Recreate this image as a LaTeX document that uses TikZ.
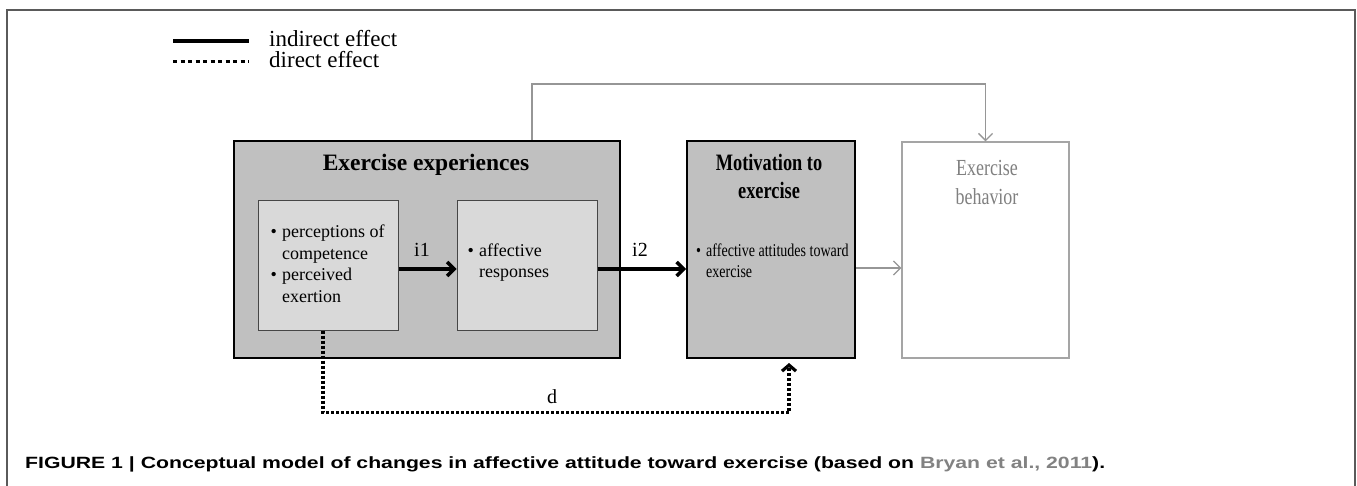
\documentclass[tikz,border=0pt]{standalone}
\usepackage{fontspec}
\usepackage{graphicx}
\usetikzlibrary{arrows.meta,calc}
\setmainfont{Liberation Serif}
\newfontfamily\condserif{Liberation Serif}[FakeStretch=0.78]
\newfontfamily\capfont{Liberation Sans}
\definecolor{boxdark}{RGB}{192,192,192}
\definecolor{boxlight}{RGB}{217,217,217}
\definecolor{innerline}{RGB}{70,70,70}
\definecolor{behline}{RGB}{165,165,165}
\definecolor{behtext}{RGB}{128,128,128}
\definecolor{conngray}{RGB}{150,150,150}
\definecolor{framegray}{RGB}{90,90,90}
\definecolor{citegray}{RGB}{130,130,130}
\newlength\capw
\newcommand{\captxt}{FIGURE 1 | Conceptual model of changes in affective attitude toward exercise (based on \textcolor{citegray}{Bryan et al., 2011}).}
\begin{document}
\settowidth{\capw}{\capfont\bfseries\fontsize{16.3}{20}\selectfont\captxt}%
\pgfmathsetmacro\capsc{1080/\capw}%
\begin{tikzpicture}[x=1pt,y=-1pt,
  outerbox/.style={draw=black, line width=2pt, fill=boxdark, inner sep=0pt},
  innerbox/.style={draw=innerline, line width=1pt, fill=boxlight, inner sep=0pt},
  behbox/.style={draw=behline, line width=1.3pt, fill=white, inner sep=0pt},
  bodytext/.style={inner sep=0pt, font=\fontsize{18}{21}\selectfont},
  condtext/.style={inner sep=0pt, font=\condserif\fontsize{18}{21}\selectfont},
  titletext/.style={inner sep=0pt, font=\bfseries\fontsize{23.5}{27}\selectfont},
  condtitle/.style={inner sep=0pt, font=\condserif\bfseries\fontsize{23.5}{27}\selectfont},
  behtitle/.style={inner sep=0pt, text=behtext, font=\condserif\fontsize{23}{27}\selectfont},
  labeltext/.style={inner sep=0pt, font=\fontsize{20}{24}\selectfont},
  legendtext/.style={inner sep=0pt, font=\fontsize{23}{27}\selectfont},
  mainarrow/.style={line width=3.5pt, -{Straight Barb[length=7pt,width=14pt,line width=3.5pt]}},
  grayarrow/.style={draw=conngray, line width=1.3pt, -{Straight Barb[length=7pt,width=14pt,line width=1.3pt]}},
  dotline/.style={line width=3.2pt, dash pattern=on 3pt off 2pt},
  dotarrow/.style={dotline, -{Straight Barb[length=6pt,width=14pt,line width=3.2pt]}, shorten >=4pt},
  legsolid/.style={line width=4pt},
  legdot/.style={line width=3.5pt, dash pattern=on 4pt off 3.5pt},
  framestyle/.style={draw=framegray, line width=1.5pt}
]
\useasboundingbox (0,0) rectangle (1357,486);
\fill[white] (0,0) rectangle (1357,486);
\draw[framestyle] (7,520) -- (7,10) -- (1355,10) -- (1355,520);

% legend
\coordinate (ls1) at (173,41);
\coordinate (ls2) at (249,41);
\coordinate (ld1) at (173,61.5);
\coordinate (ld2) at (249,61.5);
\draw[legsolid] (ls1) -- (ls2);
\draw[legdot] (ld1) -- (ld2);
\node[legendtext, anchor=base west] (legind) at (269,47) {indirect effect};
\node[legendtext, anchor=base west] (legdir) at (269,68) {direct effect};

% boxes
\node[outerbox, minimum width=386pt, minimum height=217pt] (ee) at (427,249.5) {};
\node[innerbox, minimum width=140pt, minimum height=129pt] (in1) at (328,265.5) {};
\node[innerbox, minimum width=140pt, minimum height=129pt] (in2) at (527,265.5) {};
\node[outerbox, minimum width=168pt, minimum height=217pt] (mo) at (771,249.5) {};
\node[behbox, minimum width=167pt, minimum height=216pt] (be) at (985.5,250) {};

% titles
\node[titletext, anchor=base] (eetitle) at (426,171) {Exercise experiences};
\node[condtitle, anchor=base] (motitle1) at (769,171) {Motivation to};
\node[condtitle, anchor=base] (motitle2) at (769,198.5) {exercise};
\node[behtitle, anchor=base] (betitle1) at (987,176) {Exercise};
\node[behtitle, anchor=base] (betitle2) at (987,205) {behavior};

% box 1 text
\node[bodytext, anchor=base west] (b1a) at (270.5,238) {\textbullet};
\node[bodytext, anchor=base west] (t1a) at (282,238) {perceptions of};
\node[bodytext, anchor=base west] (t1b) at (282,259.5) {competence};
\node[bodytext, anchor=base west] (b1b) at (270.5,281) {\textbullet};
\node[bodytext, anchor=base west] (t1c) at (282,281) {perceived};
\node[bodytext, anchor=base west] (t1d) at (282,302.5) {exertion};

% box 2 text
\node[bodytext, anchor=base west] (b2a) at (467.5,256.5) {\textbullet};
\node[bodytext, anchor=base west] (t2a) at (479,256.5) {affective};
\node[bodytext, anchor=base west] (t2b) at (479,278) {responses};

% motivation text
\node[condtext, anchor=base west] (b3a) at (696,256.5) {\textbullet};
\node[condtext, anchor=base west] (t3a) at (706,256.5) {affective attitudes toward};
\node[condtext, anchor=base west] (t3b) at (706,278) {exercise};

% connectors
\coordinate (a1) at ([yshift=-3.5pt]in1.east);
\draw[mainarrow] (a1) -- (a1 -| in2.west);
\coordinate (a2) at ([yshift=-3.5pt]in2.east);
\draw[mainarrow] (a2) -- (a2 -| mo.west);
\coordinate (g1) at ([yshift=-18.5pt]mo.east);
\draw[grayarrow] (g1) -- (g1 -| be.west);
\coordinate (topstart) at ([xshift=105pt]ee.north);
\draw[grayarrow] (topstart) -- ++(0,-56) -| (be.north);
\coordinate (dstart) at ([xshift=-5pt]in1.south);
\coordinate (dend) at ([xshift=18pt]mo.south);
\draw[dotarrow] (dstart) -- ++(0,82) -| (dend);

% labels
\node[labeltext, anchor=base] (li1) at (422,256.7) {i1};
\node[labeltext, anchor=base] (li2) at (640,256.7) {i2};
\node[labeltext, anchor=base] (ld) at (552,403.3) {d};

% caption
\node[inner sep=0pt, anchor=base west] (cap) at (25,468.5) {\scalebox{\capsc}[1]{\capfont\bfseries\fontsize{16.3}{20}\selectfont\captxt}};
\end{tikzpicture}
\end{document}
